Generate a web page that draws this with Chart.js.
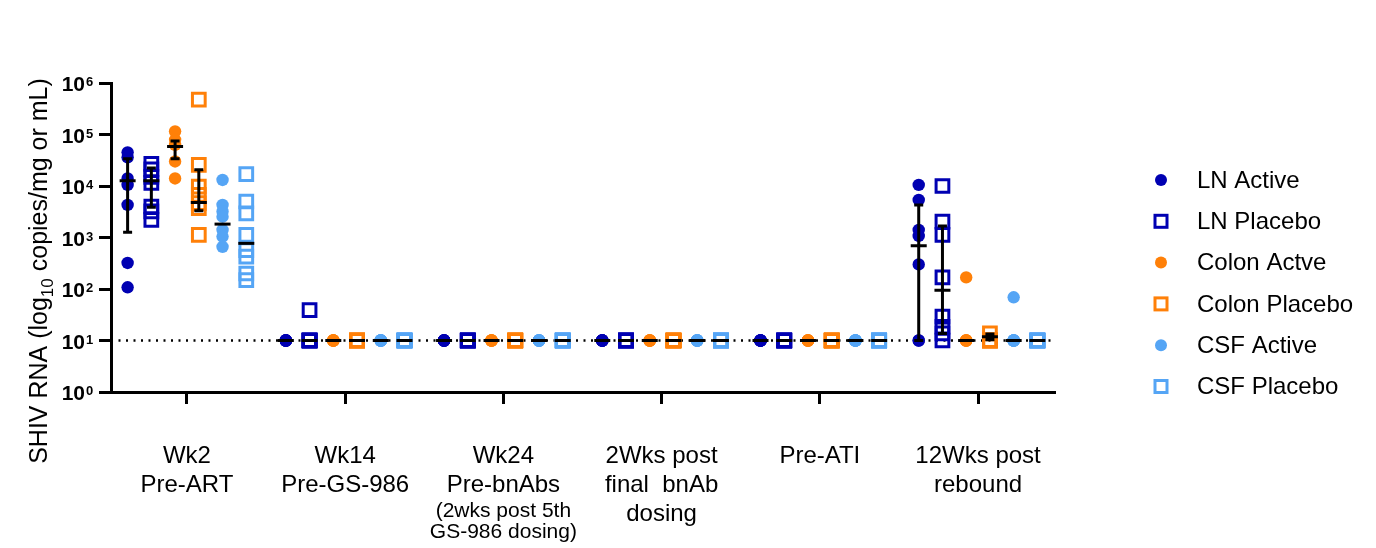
<!DOCTYPE html>
<html>
<head>
<meta charset="utf-8">
<title>SHIV RNA</title>
<script src="https://cdn.jsdelivr.net/npm/chart.js@4.4.1/dist/chart.umd.min.js"></script>
<style>
    html, body { margin: 0; padding: 0; background: #fff; }
</style>
</head>
<body>
<canvas id="myChart" width="1376" height="548"></canvas>
<script>
// time points on the x axis (one group of six series each)
const timepointLabels = [
    ["Wk2", "Pre-ART"],
    ["Wk14", "Pre-GS-986"],
    ["Wk24", "Pre-bnAbs"],
    ["2Wks post", "final  bnAb", "dosing"],
    ["Pre-ATI"],
    ["12Wks post", "rebound"]
];
const timepointNotes = [[], [], ["(2wks post 5th", "GS-986 dosing)"], [], [], []];

const seriesNames = ["LN Active", "LN Placebo", "Colon Actve", "Colon Placebo", "CSF Active", "CSF Placebo"];

// y tick labels (powers of ten)
const yTicks = [1, 10, 100, 1000, 10000, 100000, 1000000];
const detectionLimit = 10;

// values per time point, one list per time point
const lnActive = [
    [45000, 36000, 14000, 10500, 4300, 320, 108],
    [10, 10, 10, 10, 10, 10, 10],
    [10, 10, 10, 10, 10, 10, 10],
    [10, 10, 10, 10, 10, 10, 10],
    [10, 10, 10, 10, 10, 10, 10],
    [10500, 5350, 1400, 1070, 300, 10, 10]
];
const lnPlacebo = [
    [27000, 21000, 15000, 11500, 4000, 3200, 2200],
    [39, 10, 10, 10, 10, 10, 10],
    [10, 10, 10, 10, 10, 10, 10],
    [10, 10, 10, 10, 10, 10, 10],
    [10, 10, 10, 10, 10, 10, 10],
    [10000, 2030, 1120, 168, 29, 18.5, 13.8, 10]
];
const colonActive = [
    [115000, 79000, 63000, 30000, 14000],
    [10, 10, 10, 10, 10],
    [10, 10, 10, 10, 10],
    [10, 10, 10, 10, 10],
    [10, 10, 10, 10, 10],
    [168, 10, 10, 10, 10]
];
const colonPlacebo = [
    [475000, 25600, 9700, 6700, 4650, 3700, 1120],
    [10, 10, 10, 10, 10, 10, 10],
    [10, 10, 10, 10, 10, 10, 10],
    [10, 10, 10, 10, 10, 10, 10],
    [10, 10, 10, 10, 10, 10, 10],
    [13.8, 10, 10, 10, 10, 10, 10]
];
const csfActive = [
    [13100, 4300, 3200, 2530, 1400, 1040, 660],
    [10, 10, 10, 10, 10, 10, 10],
    [10, 10, 10, 10, 10, 10, 10],
    [10, 10, 10, 10, 10, 10, 10],
    [10, 10, 10, 10, 10, 10, 10],
    [69, 10, 10, 10, 10, 10, 10]
];
const csfPlacebo = [
    [17000, 5000, 2950, 1120, 570, 425, 200, 148],
    [10, 10, 10, 10, 10, 10, 10, 10],
    [10, 10, 10, 10, 10, 10, 10, 10],
    [10, 10, 10, 10, 10, 10, 10, 10],
    [10, 10, 10, 10, 10, 10, 10, 10],
    [10, 10, 10, 10, 10, 10, 10, 10]
];

// centre line and error bar ends per time point (null = no error bar)
const lnActiveMid = [12600, 10, 10, 10, 10, 690];
const lnActiveLow = [1260, null, null, null, null, 10];
const lnActiveHigh = [34000, null, null, null, null, 4300];
const lnPlaceboMid = [12600, 10, 10, 10, 10, 95];
const lnPlaceboLow = [3870, null, null, null, null, 13.7];
const lnPlaceboHigh = [22300, null, null, null, null, 1670];
const colonActiveMid = [58500, 10, 10, 10, 10, 10];
const colonActiveLow = [34000, null, null, null, null, null];
const colonActiveHigh = [75000, null, null, null, null, null];
const colonPlaceboMid = [4760, 10, 10, 10, 10, 11.8];
const colonPlaceboLow = [3290, null, null, null, null, 10.3];
const colonPlaceboHigh = [20600, null, null, null, null, 13.3];
const csfActiveMid = [1820, 10, 10, 10, 10, 10];
const csfPlaceboMid = [770, 10, 10, 10, 10, 10];

const seriesValues = [lnActive, lnPlacebo, colonActive, colonPlacebo, csfActive, csfPlacebo];
const seriesMid = [lnActiveMid, lnPlaceboMid, colonActiveMid, colonPlaceboMid, csfActiveMid, csfPlaceboMid];
const seriesLow = [lnActiveLow, lnPlaceboLow, colonActiveLow, colonPlaceboLow, null, null];
const seriesHigh = [lnActiveHigh, lnPlaceboHigh, colonActiveHigh, colonPlaceboHigh, null, null];

// styles
const FONT = '"Liberation Sans", Arial, Helvetica, sans-serif';
const DARK_BLUE = 'rgb(0, 0, 178)';
const ORANGE = 'rgb(255, 128, 8)';
const LIGHT_BLUE = 'rgb(85, 165, 245)';
const seriesColors = [DARK_BLUE, DARK_BLUE, ORANGE, ORANGE, LIGHT_BLUE, LIGHT_BLUE];
const seriesOpen = [false, true, false, true, false, true];
const groupOffsets = [-0.375, -0.225, -0.075, 0.075, 0.225, 0.375];
const X_MIN = -0.48, X_MAX = 5.48;

function buildDatasets() {
    let result = [];
    seriesNames.forEach(function(name, k) {
        let points = [];
        seriesValues[k].forEach(function(list, g) {
            list.forEach(function(v) {
                points.push({x: g + groupOffsets[k], y: v});
            });
        });
        result.push({
            type: 'scatter',
            label: name,
            data: points,
            pointStyle: seriesOpen[k] ? 'rect' : 'circle',
            pointRadius: seriesOpen[k] ? 9 : 6.2,
            pointBackgroundColor: seriesOpen[k] ? 'rgba(0,0,0,0)' : seriesColors[k],
            pointBorderColor: seriesColors[k],
            pointBorderWidth: seriesOpen[k] ? 3 : 0,
            order: 1
        });
    });
    // dotted detection limit
    result.push({
        type: 'line',
        label: 'limit',
        data: [{x: X_MIN, y: detectionLimit}, {x: X_MAX, y: detectionLimit}],
        borderColor: '#000',
        borderWidth: 2.5,
        borderDash: [2, 5.5],
        pointRadius: 0,
        order: 10
    });
    return result;
}

const errorBarPlugin = {
    id: 'errorBars',
    afterDatasetsDraw(chart) {
        const ctx = chart.ctx, xs = chart.scales.x, ys = chart.scales.y;
        ctx.save();
        ctx.strokeStyle = '#000';
        ctx.lineWidth = 3;
        seriesNames.forEach(function(name, k) {
            for (let g = 0; g < timepointLabels.length; g++) {
                const px = xs.getPixelForValue(g + groupOffsets[k]);
                const lo = seriesLow[k] ? seriesLow[k][g] : null;
                const hi = seriesHigh[k] ? seriesHigh[k][g] : null;
                ctx.beginPath();
                if (lo != null && hi != null) {
                    const y1 = ys.getPixelForValue(lo), y2 = ys.getPixelForValue(hi);
                    ctx.moveTo(px, y1); ctx.lineTo(px, y2);
                    ctx.moveTo(px - 4.5, y1); ctx.lineTo(px + 4.5, y1);
                    ctx.moveTo(px - 4.5, y2); ctx.lineTo(px + 4.5, y2);
                }
                const ym = ys.getPixelForValue(seriesMid[k][g]);
                ctx.moveTo(px - 8, ym); ctx.lineTo(px + 8, ym);
                ctx.stroke();
            }
        });
        ctx.restore();
    }
};

const textPlugin = {
    id: 'texts',
    afterDraw(chart) {
        const ctx = chart.ctx, xs = chart.scales.x, ys = chart.scales.y;
        ctx.save();
        ctx.fillStyle = '#000';

        // x category labels
        ctx.textAlign = 'center';
        ctx.textBaseline = 'alphabetic';
        timepointLabels.forEach(function(lines, i) {
            const cx = xs.getPixelForValue(i);
            ctx.font = '24px ' + FONT;
            lines.forEach(function(t, j) { ctx.fillText(t, cx, 463 + j * 29); });
            ctx.font = '21px ' + FONT;
            timepointNotes[i].forEach(function(t, j) { ctx.fillText(t, cx, 517 + j * 21); });
        });

        // y tick labels 10^n
        yTicks.forEach(function(v) {
            const py = ys.getPixelForValue(v);
            const exp = Math.round(Math.log10(v));
            ctx.textAlign = 'right';
            ctx.font = 'bold 21px ' + FONT;
            ctx.fillText('10', 85, py + 8);
            ctx.textAlign = 'left';
            ctx.font = 'bold 13px ' + FONT;
            ctx.fillText(String(exp), 86, py + 3);
        });

        // y axis title with subscript
        ctx.translate(47, 271);
        ctx.rotate(-Math.PI / 2);
        const parts = [["SHIV RNA (log", 25, 0], ["10", 17, 6], [" copies/mg or mL)", 25, 0]];
        let total = 0;
        parts.forEach(function(p) { ctx.font = p[1] + 'px ' + FONT; total += ctx.measureText(p[0]).width; });
        let cur = -total / 2;
        ctx.textAlign = 'left';
        parts.forEach(function(p) {
            ctx.font = p[1] + 'px ' + FONT;
            ctx.fillText(p[0], cur, p[2]);
            cur += ctx.measureText(p[0]).width;
        });
        ctx.setTransform(1, 0, 0, 1, 0, 0);

        // legend
        seriesNames.forEach(function(name, k) {
            const ly = 180 + k * 41.3;
            const lx = 1161;
            if (seriesOpen[k]) {
                ctx.strokeStyle = seriesColors[k];
                ctx.lineWidth = 3;
                ctx.strokeRect(lx - 6, ly - 6, 12, 12);
            } else {
                ctx.fillStyle = seriesColors[k];
                ctx.beginPath();
                ctx.arc(lx, ly, 6, 0, Math.PI * 2);
                ctx.fill();
            }
            ctx.fillStyle = '#000';
            ctx.font = '24px ' + FONT;
            ctx.textAlign = 'left';
            ctx.textBaseline = 'middle';
            ctx.fillText(name, 1197, ly + 1);
            ctx.textBaseline = 'alphabetic';
        });
        ctx.restore();
    }
};

const config = {
    type: 'scatter',
    data: { datasets: buildDatasets() },
    options: {
        responsive: false,
        animation: false,
        layout: { padding: { left: 0, right: 322, top: 83, bottom: 0 } },
        plugins: {
            legend: { display: false },
            tooltip: { enabled: false }
        },
        scales: {
            x: {
                type: 'linear',
                min: X_MIN,
                max: X_MAX,
                ticks: { display: false, stepSize: 1, includeBounds: false },
                grid: { display: true, drawOnChartArea: false, drawTicks: true, tickLength: 12, tickWidth: 3, tickColor: '#000', color: '#000', lineWidth: 3 },
                border: { display: true, color: '#000', width: 3 },
                afterFit: function(s) { s.height = 156; }
            },
            y: {
                type: 'logarithmic',
                min: 1,
                max: 1000000,
                ticks: { display: false },
                afterBuildTicks: function(s) { s.ticks = yTicks.map(function(v) { return {value: v}; }); },
                grid: { display: true, drawOnChartArea: false, drawTicks: true, tickLength: 12, tickWidth: 3, tickColor: '#000', color: '#000', lineWidth: 3 },
                border: { display: true, color: '#000', width: 3 },
                afterFit: function(s) { s.width = 111; }
            }
        }
    },
    plugins: [errorBarPlugin, textPlugin]
};

var myChart = new Chart(document.getElementById('myChart'), config);
</script>
</body>
</html>
